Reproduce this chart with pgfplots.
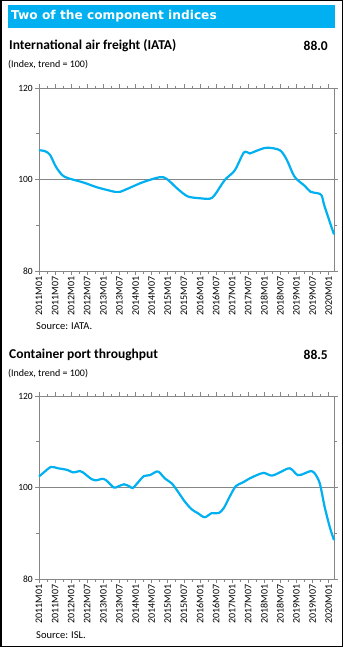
\documentclass[border=0pt]{standalone}
\usepackage{fontspec}
\setmainfont{Carlito}
\newfontfamily\titlefont{DejaVu Sans}
\usepackage{pgfplots}
\pgfplotsset{compat=1.18}
\definecolor{lineblue}{RGB}{0,176,240}
\definecolor{axgray}{RGB}{134,134,134}
\pgfplotsset{myax/.style={
  scale only axis, width=295pt, height=183pt,
  anchor=south west,
  xmin=0, xmax=110, ymin=80, ymax=120,
  axis line style={axgray},
  tick style={axgray, line width=0.6pt},
  tick align=outside,
  major tick length=4pt, minor tick length=2.5pt,
  ytick={80,100,120}, minor ytick={90,110},
  ymajorgrids, major grid style={axgray, line width=0.7pt},
  xtick={0,6,...,108}, minor xtick={3,9,...,111},
  xticklabels={2011M01,2011M07,2012M01,2012M07,2013M01,2013M07,2014M01,2014M07,2015M01,2015M07,2016M01,2016M07,2017M01,2017M07,2018M01,2018M07,2019M01,2019M07,2020M01},
  x tick label style={rotate=90, anchor=east, font=\fontsize{10}{11}\selectfont, inner sep=1.5pt},
  y tick label style={font=\fontsize{9.5}{10}\selectfont, inner sep=2pt},
  /pgf/number format/assume math mode=true,
  clip=false,
}}
\begin{document}
\begin{tikzpicture}
\fill[white] (0pt,0pt) rectangle (343pt,-647pt);
\draw[black, line width=1.5pt] (0.75pt,-0.75pt) rectangle (342.25pt,-646.25pt);
\fill[lineblue] (8pt,-5pt) rectangle (335pt,-28pt);
\node[anchor=west, text=white, inner sep=0pt, font=\titlefont\bfseries\fontsize{12.2}{14}\selectfont] at (11pt,-16.5pt) {Two of the component indices};

% Chart 1
\node[anchor=west, inner sep=0pt, font=\bfseries\fontsize{13.5}{15}\selectfont] at (9pt,-46pt) {International air freight (IATA)};
\node[anchor=east, inner sep=0pt, font=\bfseries\fontsize{13.5}{15}\selectfont] at (328pt,-46pt) {88.0};
\node[anchor=west, inner sep=0pt, font=\fontsize{10}{12}\selectfont] at (8pt,-65pt) {(Index, trend = 100)};
\begin{axis}[myax, at={(39pt,-271pt)}]
\addplot[lineblue, line width=2.2pt, smooth, tension=0.5] coordinates {
(0,106.4) (2.2,106.2) (4.1,105.4) (6.3,102.8) (8.6,101.0) (10.8,100.3) (16.8,99.3) (21.6,98.3) (28.3,97.3) (30.2,97.3) (33.9,98.2) (38.7,99.4) (45,100.5) (47.7,100.1) (51.8,97.9) (55.5,96.3) (60,95.9) (63.7,95.8) (65.5,96.6) (69.3,99.9) (73,102.0) (76.4,105.9) (78.6,105.7) (80.8,106.2) (84.9,106.95) (89.8,106.4) (92.4,104.3) (95.3,100.6) (99.1,98.6) (101.3,97.3) (103.9,97.0) (105.4,96.5) (106.5,94.1) (110,88.0)
};
\end{axis}
\node[anchor=west, inner sep=0pt, font=\fontsize{10.5}{12}\selectfont] at (36pt,-326pt) {Source: IATA.};

% Chart 2
\node[anchor=west, inner sep=0pt, font=\bfseries\fontsize{13.5}{15}\selectfont] at (9pt,-355pt) {Container port throughput};
\node[anchor=east, inner sep=0pt, font=\bfseries\fontsize{13.5}{15}\selectfont] at (328pt,-355pt) {88.5};
\node[anchor=west, inner sep=0pt, font=\fontsize{10}{12}\selectfont] at (8pt,-374pt) {(Index, trend = 100)};
\begin{axis}[myax, at={(39pt,-579pt)}]
\addplot[lineblue, line width=2.2pt, smooth, tension=0.5] coordinates {
(0,102.4) (2.2,103.5) (4.5,104.5) (7.1,104.2) (9.3,104.0) (10.8,103.8) (12.7,103.3) (15.3,103.6) (16.4,103.3) (19.7,101.8) (21.6,101.6) (23.5,101.9) (25,101.6) (27.9,100.0) (29.4,100.2) (31.7,100.7) (33.9,100.2) (35,99.9) (37.2,101.3) (39.1,102.5) (41.3,102.7) (43.9,103.5) (45.1,103.2) (46.9,102.0) (49.5,100.9) (51.8,99.1) (54.4,96.9) (57,95.2) (59.2,94.4) (61.8,93.5) (64.4,94.4) (67,94.4) (68.9,95.5) (71.1,98.0) (73.4,100.3) (76,101.1) (78.6,102.0) (81.2,102.7) (83.8,103.2) (86.8,102.6) (89.8,103.3) (93.5,104.2) (96.5,102.7) (99.1,103.1) (101.3,103.6) (102.8,103.1) (104.7,100.9) (106.5,95.8) (108.4,91.4) (110,88.5)
};
\end{axis}
\node[anchor=west, inner sep=0pt, font=\fontsize{10.5}{12}\selectfont] at (36pt,-635pt) {Source: ISL.};
\end{tikzpicture}
\end{document}
